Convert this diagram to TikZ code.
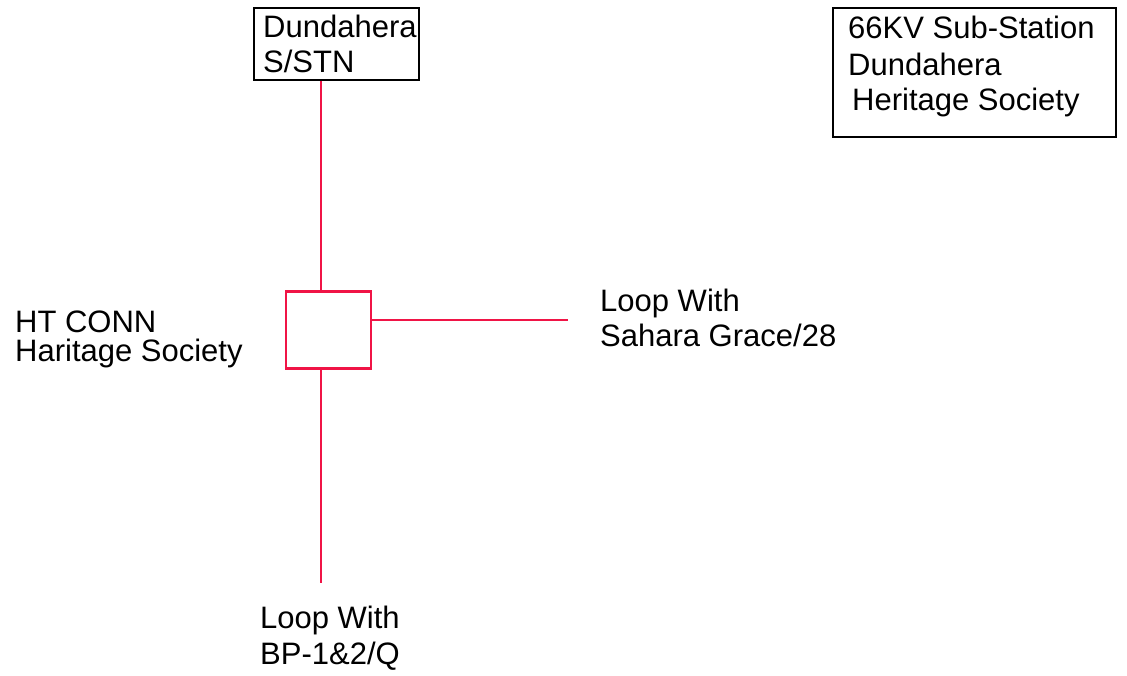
\documentclass[tikz,border=0pt]{standalone}
\usepackage{fontspec}
\setmainfont{Liberation Sans}
\usetikzlibrary{positioning}
\definecolor{feedred}{RGB}{240,20,70}

\begin{document}
\begin{tikzpicture}[x=1pt, y=-1pt,
    box/.style={draw, line width=1.6pt, inner sep=0pt},
    feeder/.style={draw=feedred, line width=2.2pt},
    lbl/.style={font=\fontsize{31}{35}\selectfont, align=left, anchor=base west, inner sep=0pt}]
    \useasboundingbox (0,0) rectangle (1127,675);

    % Source sub-station
    \node[box, anchor=north west, minimum width=165pt, minimum height=72pt] (stn) at (253,7) {};
    \node[lbl] (stntxt) at (263,72) {Dundahera\\S/STN};

    % Title box
    \node[box, anchor=north west, minimum width=283pt, minimum height=129pt] (title) at (832,7) {};
    \node[lbl] (titletxt) at (848,110) {66KV Sub-Station\\[2pt]Dundahera\\\hspace{4pt}Heritage Society};

    % HT connection
    \node[draw=feedred, line width=2.2pt, minimum width=85pt, minimum height=77pt] (conn) at (328.5,330) {};
    \node[lbl, font=\fontsize{31}{29.5}\selectfont] (conntxt) at (15,361.5) {HT CONN\\Haritage Society};

    % Feeder ends
    \coordinate (top) at (321,0);
    \coordinate (sgend) at (568,320);
    \coordinate (bpend) at (321,583);
    \node[lbl] (sgtxt) at (600,346) {Loop With\\Sahara Grace/28};
    \node[lbl] (bptxt) at (260,664) {Loop With\\[1pt]BP-1\&2/Q};

    % Connections
    \draw[feeder] (stn.south -| top) -- (conn.north -| top);
    \draw[feeder] (conn.east |- sgend) -- (sgend);
    \draw[feeder] (conn.south -| bpend) -- (bpend);
\end{tikzpicture}
\end{document}
